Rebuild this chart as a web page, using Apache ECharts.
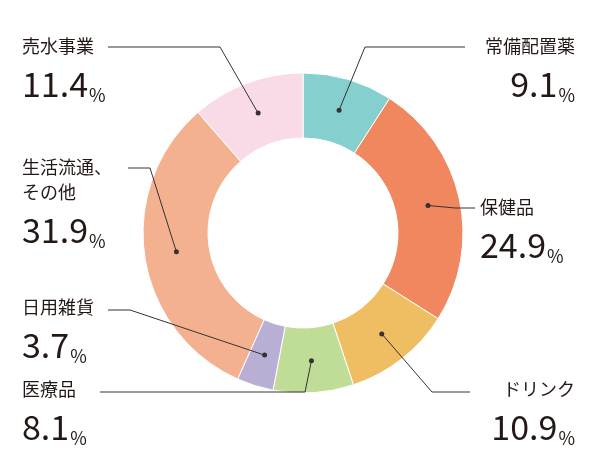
<!DOCTYPE html>
<html><head><meta charset="utf-8">
<script src="https://cdn.jsdelivr.net/npm/echarts@6/dist/echarts.min.js"></script>
<style>html,body{margin:0;background:#fff}#c{width:600px;height:475px}</style>
</head><body><div id="c"></div>
<script>
const names = ['常備配置薬', '保健品', 'ドリンク', '医療品', '日用雑貨', '生活流通、\nその他', '売水事業'];
const values = [9.1, 24.9, 10.9, 8.1, 3.7, 31.9, 11.4];
const colors = ['#86cfcf', '#f0875f', '#f0be62', '#c0dd98', '#b9afd5', '#f4b190', '#f9dbe8'];

const cx = 303, cy = 233, rOut = 160, rIn = 95, rDot = 128;
// label anchor: [x, y(top), align, elbow, lineEnd]
const place = [
  [575, 34, 'right', [365, 47], [465, 47]],
  [480, 195, 'left', [455, 208], [475, 208]],
  [575, 377, 'right', [432, 392], [470, 392]],
  [22, 377, 'left', [305, 392], [100, 392]],
  [22, 295, 'left', [130, 310], [108, 310]],
  [22, 155, 'left', [150, 168], [128, 168]],
  [22, 34, 'left', [220, 47], [108, 47]]
];
const total = values.reduce((a, b) => a + b, 0);
const dots = [];
let cum = 0;
values.forEach(v => {
  const a = (90 - 360 * (cum + v / 2) / total) * Math.PI / 180;
  dots.push([cx + rDot * Math.cos(a), cy - rDot * Math.sin(a)]);
  cum += v;
});

const graphics = [];
dots.forEach((d, i) => {
  graphics.push({type: 'polyline', shape: {points: [d, place[i][3], place[i][4]]}, style: {stroke: '#333', lineWidth: 1, fill: null}, z: 100});
  graphics.push({type: 'circle', shape: {cx: d[0], cy: d[1], r: 2.5}, style: {fill: '#333'}, z: 101});
});

const chart = echarts.init(document.getElementById('c'));
chart.setOption({
  animation: false,
  textStyle: {fontFamily: 'Noto Sans CJK JP'},
  graphic: graphics,
  series: [{
    type: 'pie',
    center: [cx, cy],
    radius: [rIn, rOut],
    startAngle: 90,
    clockwise: true,
    itemStyle: {borderColor: '#fff', borderWidth: 1},
    data: names.map((n, i) => ({name: n, value: values[i], itemStyle: {color: colors[i]}})),
    label: {
      show: true,
      position: 'outside',
      overflow: 'none',
      width: 200,
      color: '#231815',
      formatter: p => p.name.split('\n').map(s => '{n|' + s + '}').join('\n') + '\n{v|' + p.value + '}{p|%}',
      rich: {
        n: {fontSize: 18, lineHeight: 25, color: '#231815', fontFamily: 'Noto Sans CJK JP'},
        v: {fontSize: 34, lineHeight: 50, color: '#231815', fontFamily: 'Noto Sans CJK JP'},
        p: {fontSize: 18, lineHeight: 50, color: '#231815', fontFamily: 'Noto Sans CJK JP', verticalAlign: 'bottom', padding: [0, 0, 5, 1]}
      }
    },
    labelLine: {show: false},
    labelLayout: p => {
      const pl = place[p.dataIndex];
      return {x: pl[0], y: pl[1], align: pl[2], verticalAlign: 'top'};
    }
  }]
});
</script></body></html>
